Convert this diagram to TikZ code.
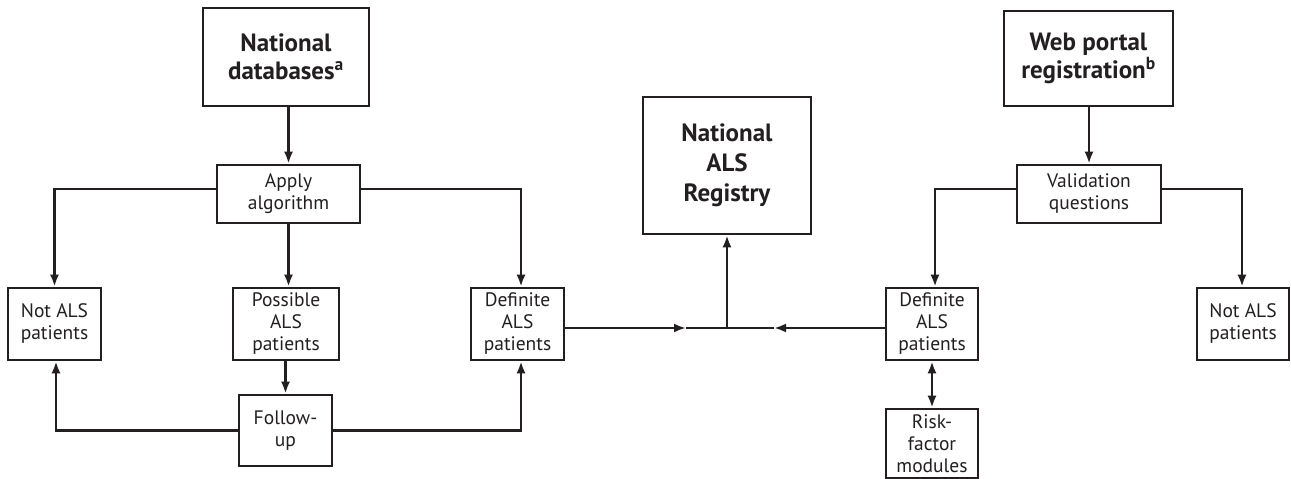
\documentclass[tikz,border=0pt]{standalone}
\usepackage{fontspec}
\setmainfont{PT Sans}
\usetikzlibrary{arrows.meta}
\definecolor{ink}{HTML}{231F20}
\tikzset{
  box/.style={draw=ink, line width=2.6pt, inner sep=0pt, align=center, text=ink,
              font=\fontsize{19.5}{22}\selectfont},
  bigbox/.style={box, font=\fontsize{25}{28.5}\selectfont\bfseries},
  conn/.style={draw=ink, line width=2.6pt},
  arr/.style={conn, -{Latex[length=12pt,width=9pt]}},
  darr/.style={conn, {Latex[length=12pt,width=9pt]}-{Latex[length=12pt,width=9pt]}}
}
\begin{document}
\begin{tikzpicture}[x=1pt,y=-1pt]
\useasboundingbox (0,0) rectangle (1291,479);
% nodes
\node[bigbox, minimum width=166pt, minimum height=98pt] (ndb) at (286,57) {National\\databases\textsuperscript{a}};
\node[box, minimum width=143pt, minimum height=58pt] (apply) at (288.5,194) {Apply\\algorithm};
\node[box, minimum width=93pt, minimum height=72pt] (notL) at (54.5,324) {Not ALS\\patients};
\node[box, minimum width=106pt, minimum height=72pt] (poss) at (286,324) {Possible\\ALS\\patients};
\node[box, minimum width=93pt, minimum height=71pt] (follow) at (285.5,430.5) {Follow-\\up};
\node[box, minimum width=93pt, minimum height=72pt] (defL) at (517.5,324) {Definite\\ALS\\patients};
\node[bigbox, minimum width=168pt, minimum height=137pt, font=\fontsize{25}{30}\selectfont\bfseries] (reg) at (727,165.5) {National\\ALS\\Registry};
\node[bigbox, minimum width=169pt, minimum height=95pt] (web) at (1088.5,58.5) {Web portal\\registration\textsuperscript{b}};
\node[box, minimum width=144pt, minimum height=58pt] (valid) at (1089,194) {Validation\\questions};
\node[box, minimum width=92pt, minimum height=72pt] (defR) at (932,324) {Definite\\ALS\\patients};
\node[box, minimum width=92pt, minimum height=72pt] (notR) at (1243,324) {Not ALS\\patients};
\node[box, minimum width=92pt, minimum height=69pt] (risk) at (932,443.5) {Risk-\\factor\\modules};
% helper coordinates
\coordinate (m1) at (686,328);
\coordinate (j) at (727,328);
\coordinate (m2) at (774,328);
% connectors
\draw[arr] (ndb.south -| apply.north) -- (apply.north);
\draw[arr] ([yshift=5pt]apply.west) -| (notL.north);
\draw[arr] (apply.south) -- (apply.south |- poss.north);
\draw[arr] ([yshift=5pt]apply.east) -| ([xshift=3.5pt]defL.north);
\draw[arr] (poss.south -| follow.north) -- (follow.north);
\draw[arr] (follow.west) -| ([xshift=1.5pt]notL.south);
\draw[arr] (follow.east) -| ([xshift=3.5pt]defL.south);
\draw[arr] ([yshift=-4pt]defL.east) -- (m1);
\draw[conn] (m1) -- (j);
\draw[arr] ([yshift=-4pt]defR.west) -- (m2);
\draw[conn] (m2) -- (j);
\draw[arr] (j) -- (reg.south);
\draw[arr] (web.south -| valid.north) -- (valid.north);
\draw[arr] ([yshift=5pt]valid.west) -| ([xshift=3pt]defR.north);
\draw[arr] ([yshift=5pt]valid.east) -| ([xshift=-1pt]notR.north);
\draw[darr] (defR.south) -- (risk.north);
\end{tikzpicture}
\end{document}
